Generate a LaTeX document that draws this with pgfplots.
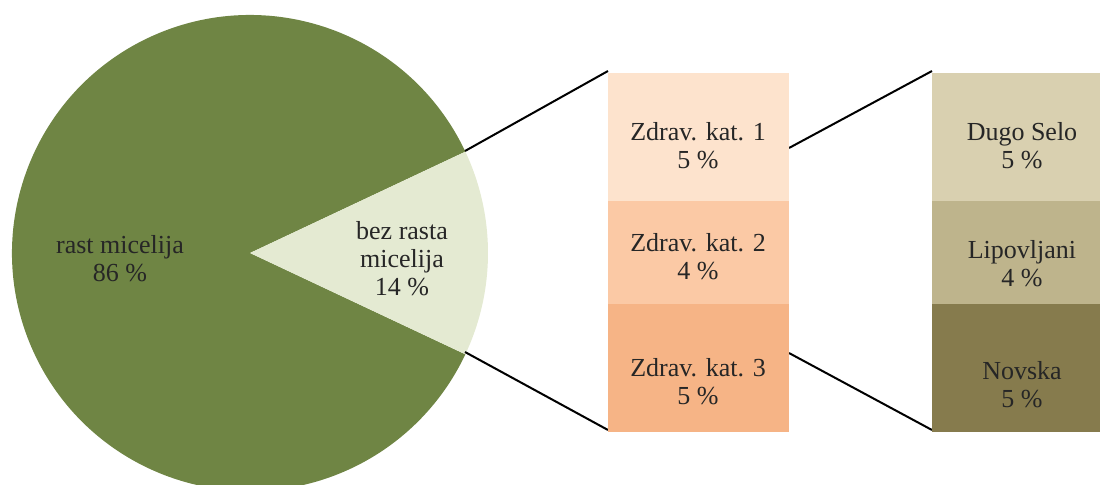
\documentclass[border=0pt]{standalone}
\usepackage{fontspec}
\setmainfont{Liberation Serif}
\usepackage{pgfplots}
\usepackage{pgfplotstable}
\pgfplotsset{compat=1.18}
\definecolor{pieG}{RGB}{111,133,68}
\definecolor{pieL}{RGB}{228,234,210}
\definecolor{kA}{RGB}{253,227,205}
\definecolor{kB}{RGB}{251,201,165}
\definecolor{kC}{RGB}{246,180,134}
\definecolor{lA}{RGB}{217,208,176}
\definecolor{lB}{RGB}{190,180,140}
\definecolor{lC}{RGB}{134,123,77}
\definecolor{txt}{RGB}{38,38,38}
% pie: share in %
\pgfplotstableread{
label value
rast 86
bez 14
}\pietable
% first bar (health categories), bottom to top
\pgfplotstableread{
x kat3 kat2 kat1
698.5 5 4 5
}\bartableA
% second bar (localities), bottom to top
\pgfplotstableread{
x novska lipovljani dugo
1022.5 5 4 5
}\bartableB
\begin{document}
\begin{tikzpicture}[font=\fontsize{13}{14}\selectfont, every node/.style={text=txt}]
\useasboundingbox (0,0) rectangle (550pt,242pt);
\pgfplotstablegetelem{1}{value}\of\pietable
\pgfmathsetmacro{\halfang}{\pgfplotsretval*3.6/2}
\begin{axis}[
  at={(0,0)}, anchor=south west,
  width=550pt, height=242pt, scale only axis,
  xmin=0, xmax=1100, ymin=0, ymax=484,
  hide axis, clip=true,
]
% pie (radius 238 units = 119pt)
\fill[pieG] (axis cs:250,231) -- ++(\halfang:119pt) arc[start angle=\halfang, end angle=360-\halfang, radius=119pt] -- cycle;
\fill[pieL] (axis cs:250,231) -- ++(-\halfang:119pt) arc[start angle=-\halfang, end angle=\halfang, radius=119pt] -- cycle;
% connector lines
\addplot[black, line width=1pt, no marks] coordinates {(465,333) (608,413)};
\addplot[black, line width=1pt, no marks] coordinates {(465,132) (608,54)};
\addplot[black, line width=1pt, no marks] coordinates {(789,336) (932,413)};
\addplot[black, line width=1pt, no marks] coordinates {(789,131) (932,54)};
\node[align=center] at (axis cs:120,225) {rast micelija\\86 \%};
\node[align=center] at (axis cs:402,225) {bez rasta\\micelija\\14 \%};
\end{axis}
\begin{axis}[
  at={(0,0)}, anchor=south west,
  width=550pt, height=242pt, scale only axis,
  xmin=0, xmax=1100, ymin=-2.0279, ymax=16.847,
  hide axis, clip=true,
  ybar stacked, bar width=181,
]
\addplot[fill=kC, draw=none] table[x=x, y=kat3] {\bartableA};
\addplot[fill=kB, draw=none] table[x=x, y=kat2] {\bartableA};
\addplot[fill=kA, draw=none] table[x=x, y=kat1] {\bartableA};
\end{axis}
\begin{axis}[
  at={(0,0)}, anchor=south west,
  width=550pt, height=242pt, scale only axis,
  xmin=0, xmax=1100, ymin=-2.0279, ymax=16.847,
  hide axis, clip=true,
  ybar stacked, bar width=181,
]
\addplot[fill=lC, draw=none] table[x=x, y=novska] {\bartableB};
\addplot[fill=lB, draw=none] table[x=x, y=lipovljani] {\bartableB};
\addplot[fill=lA, draw=none] table[x=x, y=dugo] {\bartableB};
\end{axis}
\begin{axis}[
  at={(0,0)}, anchor=south west,
  width=550pt, height=242pt, scale only axis,
  xmin=0, xmax=1100, ymin=0, ymax=484,
  hide axis, clip=false,
]
\node[align=center] at (axis cs:698,338) {Zdrav. kat. 1\\5 \%};
\node[align=center] at (axis cs:698,227) {Zdrav. kat. 2\\4 \%};
\node[align=center] at (axis cs:698,102) {Zdrav. kat. 3\\5 \%};
\node[align=center] at (axis cs:1022,338) {Dugo Selo\\5 \%};
\node[align=center] at (axis cs:1022,220) {Lipovljani\\4 \%};
\node[align=center, text=txt] at (axis cs:1022,99) {Novska\\5 \%};
\end{axis}
\end{tikzpicture}
\end{document}
